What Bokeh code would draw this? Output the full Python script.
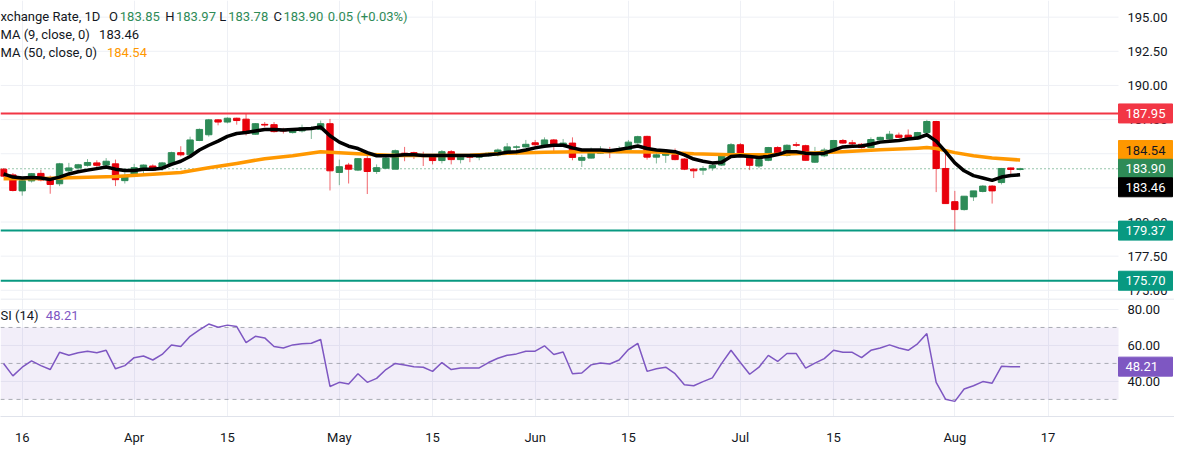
import pandas as pd
from bokeh.plotting import figure
from bokeh.layouts import column
from bokeh.models import FixedTicker, Range1d, Grid, ColumnDataSource
from bokeh.core.properties import value
from bokeh.embed import file_html
from bokeh.resources import INLINE

# ---------------- data ----------------
first_bar = "2025-03-12"
opens = [183.87, 183.45, 182.28, 183.01, 183.56, 183.17, 182.80, 183.75, 183.96, 184.15,
         184.33, 184.17, 184.26, 183.03, 183.36, 183.94, 184.10, 183.91, 184.22, 185.08,
         184.92, 185.97, 186.39, 187.48, 187.32, 187.60, 187.53, 186.43, 187.15, 187.13,
         186.72, 186.55, 186.67, 186.88, 186.78, 187.20, 183.63, 184.17, 183.80, 184.64,
         183.70, 183.94, 183.87, 185.04, 185.08, 184.92, 184.87, 184.50, 185.15, 184.57,
         184.80, 184.75, 184.85, 184.92, 185.20, 185.48, 185.50, 185.80, 185.66, 186.01,
         185.57, 185.78, 184.52, 184.68, 185.04, 185.17, 185.08, 185.31, 185.80, 186.27,
         184.75, 184.89, 184.92, 184.61, 183.87, 183.80, 183.96, 184.17, 184.92, 185.66,
         184.96, 184.10, 184.52, 185.45, 184.87, 185.66, 185.59, 184.38, 184.85, 185.27,
         185.97, 185.80, 185.69, 185.45, 186.01, 186.08, 186.36, 186.36, 186.08, 186.55,
         187.36, 183.92, 181.49, 180.91, 181.84, 182.24, 182.63, 182.89, 183.96, 183.85]
highs = [183.95, 183.59, 183.17, 183.59, 183.82, 183.40, 184.33, 184.33, 184.26, 184.61,
         184.52, 184.68, 184.57, 183.64, 184.26, 184.22, 184.22, 184.40, 185.15, 185.55,
         186.25, 186.85, 187.55, 187.53, 187.67, 187.64, 187.90, 187.25, 187.32, 187.32,
         186.90, 186.85, 187.13, 187.01, 187.43, 187.55, 184.57, 184.33, 184.68, 185.08,
         184.22, 184.80, 185.31, 185.50, 185.15, 185.15, 184.92, 185.27, 185.27, 184.92,
         184.92, 184.92, 185.11, 185.38, 185.78, 185.62, 186.01, 186.01, 186.20, 186.08,
         186.08, 186.20, 184.92, 185.45, 185.55, 185.50, 185.55, 186.01, 186.32, 186.32,
         185.15, 185.08, 185.38, 184.68, 183.92, 184.10, 184.22, 185.04, 185.78, 185.78,
         185.04, 184.61, 185.50, 185.55, 185.69, 185.85, 185.66, 185.50, 185.43, 186.01,
         186.08, 186.01, 185.78, 186.20, 186.25, 186.67, 186.55, 186.78, 186.60, 187.48,
         187.41, 185.15, 182.28, 181.89, 182.28, 182.70, 182.70, 183.96, 183.99, 183.97]
lows = [183.30, 182.24, 181.93, 182.89, 182.98, 182.07, 182.63, 183.29, 183.75, 184.05,
        183.98, 184.05, 182.63, 182.82, 183.29, 183.52, 183.75, 183.75, 184.19, 184.80,
        184.85, 185.92, 186.25, 187.08, 187.22, 187.13, 186.34, 186.39, 186.95, 186.55,
        186.48, 186.48, 186.55, 186.08, 186.71, 182.31, 182.70, 182.82, 183.73, 182.05,
        183.52, 183.87, 183.87, 184.45, 184.61, 184.10, 184.22, 184.29, 184.22, 184.29,
        184.38, 184.52, 184.80, 184.80, 185.15, 184.92, 185.45, 185.38, 185.62, 185.15,
        185.50, 184.52, 184.03, 184.64, 184.99, 184.68, 185.04, 185.27, 185.73, 184.57,
        184.29, 184.33, 184.52, 183.80, 183.22, 183.45, 183.75, 184.10, 184.85, 184.87,
        183.80, 183.94, 184.45, 184.92, 184.80, 185.50, 184.50, 184.33, 184.75, 185.22,
        185.73, 185.43, 185.38, 185.38, 185.97, 186.04, 186.15, 186.04, 186.01, 186.50,
        182.19, 181.35, 179.37, 180.84, 181.54, 182.17, 181.35, 182.75, 183.52, 183.78]
closes = [183.36, 182.31, 183.03, 183.54, 183.08, 182.75, 184.26, 183.96, 184.19, 184.36,
          184.15, 184.45, 183.10, 183.38, 183.98, 184.17, 183.80, 184.33, 185.08, 184.92,
          186.01, 186.78, 187.48, 187.32, 187.60, 187.43, 186.50, 187.20, 187.10, 186.62,
          186.66, 186.83, 186.90, 186.92, 187.20, 183.75, 184.05, 183.87, 184.64, 183.70,
          183.98, 184.68, 185.22, 185.00, 184.80, 184.90, 184.50, 185.15, 184.57, 184.75,
          184.75, 184.80, 185.04, 185.27, 185.50, 185.50, 185.69, 185.66, 186.01, 185.62,
          185.78, 184.73, 184.73, 185.11, 185.22, 185.13, 185.31, 185.85, 186.25, 184.75,
          184.92, 185.04, 184.57, 183.87, 183.75, 183.92, 184.15, 184.96, 185.66, 184.92,
          184.15, 184.57, 185.45, 184.99, 185.62, 185.62, 184.52, 184.92, 185.27, 185.97,
          185.78, 185.73, 185.45, 186.04, 186.20, 186.43, 186.20, 186.08, 186.55, 187.36,
          183.92, 181.35, 180.91, 181.89, 182.28, 182.63, 182.28, 183.92, 183.85, 183.90]
sma9 = [183.52, 183.29, 183.22, 183.26, 183.22, 183.12, 183.29, 183.52, 183.68, 183.80,
        183.91, 184.03, 183.87, 183.77, 183.77, 183.87, 183.87, 183.94, 184.22, 184.45,
        184.80, 185.27, 185.62, 185.92, 186.27, 186.48, 186.55, 186.67, 186.78, 186.78,
        186.74, 186.78, 186.81, 186.85, 186.95, 186.32, 185.85, 185.55, 185.38, 185.08,
        184.85, 184.85, 184.87, 184.92, 184.92, 184.87, 184.87, 184.87, 184.87, 184.87,
        184.87, 184.87, 184.92, 184.99, 185.11, 185.15, 185.27, 185.43, 185.55, 185.62,
        185.62, 185.43, 185.27, 185.27, 185.27, 185.22, 185.31, 185.43, 185.57, 185.38,
        185.27, 185.22, 185.15, 184.92, 184.61, 184.45, 184.33, 184.38, 184.80, 184.85,
        184.80, 184.73, 184.80, 184.94, 185.15, 185.15, 185.04, 184.99, 185.04, 185.27,
        185.50, 185.55, 185.57, 185.69, 185.85, 185.92, 185.97, 186.08, 186.15, 186.39,
        185.92, 185.15, 184.33, 183.75, 183.40, 183.22, 183.05, 183.29, 183.40, 183.46]
sma50_bar = [0, 4, 8, 12, 16, 19, 22, 25, 28, 31, 34, 36, 39, 42, 46, 50, 54, 58, 62, 66,
             70, 74, 78, 82, 86, 90, 94, 98, 99, 100, 102, 104, 106, 109]
sma50 = [183.17, 183.19, 183.26, 183.33, 183.50, 183.63, 183.98, 184.29, 184.64, 184.85,
         185.15, 185.08, 184.96, 184.87, 184.87, 184.89, 185.03, 185.10, 185.15, 185.15,
         185.13, 184.99, 184.92, 184.92, 185.03, 185.15, 185.29, 185.41, 185.45, 185.38,
         185.08, 184.85, 184.68, 184.54]
rsi = [50.0, 43.1, 47.9, 51.4, 48.8, 46.6, 56.2, 54.6, 55.9, 56.8,
       55.9, 57.3, 47.0, 48.8, 53.2, 54.1, 51.9, 55.0, 60.3, 59.4,
       65.1, 68.7, 71.9, 70.1, 71.3, 70.5, 61.6, 65.1, 64.2, 59.4,
       58.6, 60.3, 60.9, 61.2, 63.3, 37.2, 39.5, 38.6, 44.3, 39.5,
       41.7, 46.6, 50.0, 49.1, 48.2, 47.9, 45.6, 50.5, 46.6, 47.5,
       47.5, 47.5, 50.5, 52.9, 54.5, 55.3, 56.8, 56.8, 59.8, 55.0,
       56.4, 44.3, 44.7, 49.2, 50.2, 49.7, 51.9, 57.7, 61.2, 45.6,
       47.0, 47.9, 44.3, 38.1, 37.6, 39.9, 42.0, 50.0, 57.3, 50.5,
       44.0, 47.9, 54.5, 51.1, 55.5, 55.5, 47.4, 50.2, 52.7, 57.3,
       56.2, 56.2, 53.2, 57.3, 58.6, 60.3, 58.6, 57.3, 60.9, 66.6,
       39.5, 30.1, 28.9, 35.8, 37.6, 39.9, 39.0, 48.4, 48.2, 48.21]
resistance = 187.95
supports = [179.37, 175.70]
price_ticks = [175.0, 177.5, 180.0, 182.5, 185.0, 187.5, 190.0, 192.5, 195.0]
rsi_ticks = [40.0, 60.0, 80.0]
rsi_levels = [70, 50, 30]
tick_dates = ["2025-03-16", "2025-04-01", "2025-04-15", "2025-05-01", "2025-05-15", "2025-06-01",
              "2025-06-15", "2025-07-01", "2025-07-15", "2025-08-01", "2025-08-17"]
tick_labels = ["16", "Apr", "15", "May", "15", "Jun", "15", "Jul", "15", "Aug", "17"]

# ---------------- styling / layout ----------------
FONT = "Roboto"
DARK = "#131722"
GREEN = "#2e8b57"
RED = "#e8000b"
ORANGE = "#ff9800"
PURPLE = "#7e57c2"
TEAL = "#089981"
RESRED = "#f23645"
GRID = "#eef0f5"

W = 1174            # full figure width
CW = 1118           # chart area width (left of the price scale)
H1, H2 = 298, 118
X0, XC = -0.33, 119.55   # bar-index range across the chart area
P0, P1 = 174.4, 196.22
R0, R1 = 20.5, 86.1
REF_W, REF_H1, REF_H2 = 1134.0, 310.0, 123.0

ppx = CW / (XC - X0)
XE = X0 + W / ppx
ppy1 = H1 / (P1 - P0)
ppy2 = H2 / (R1 - R0)

bar_dates = pd.bdate_range(first_bar, periods=len(closes) + 12, freq="C",
                           weekmask="Sun Mon Tue Wed Thu")
idx = list(range(len(closes)))
tick_idx = [int(i) for i in bar_dates.searchsorted(pd.to_datetime(tick_dates))]


def fx(ref_px):
    return X0 + ref_px * (CW / REF_W) / ppx


def xpx(px):
    return X0 + px / ppx


def fy1(ref_px):
    return P1 - ref_px * (H1 / REF_H1) / ppy1


def fy2(ref_px):
    return R1 - ref_px * (H2 / REF_H2) / ppy2


common = dict(frame_width=W, toolbar_location=None, output_backend="svg",
              min_border_left=0, min_border_top=0, min_border_right=0,
              background_fill_color="white", border_fill_color="white",
              y_axis_location=None)
TXT = dict(text_font=value(FONT), text_font_size="13px", text_baseline="middle",
           text_align="left")


def hide_default_grids(fig):
    for g in fig.grid:
        g.visible = False


def scale_ticks(fig, ticks):
    fig.text(x=[xpx(CW + 9)] * len(ticks), y=ticks, text=[f"{t:.2f}" for t in ticks],
             text_color=DARK, **TXT)


def scale_label(fig, y, txt, bg, fg, ppy):
    fig.rect(x=[xpx(CW + 27)], y=[y], width=54 / ppx, height=19 / ppy,
             fill_color=bg, line_color=bg)
    fig.text(x=[xpx(CW + 7)], y=[y], text=[txt], text_color=fg, **TXT)


def hlines(fig, ys, **kw):
    fig.segment(x0=[X0] * len(ys), x1=[XC] * len(ys), y0=ys, y1=ys, **kw)


# ---------------- price pane ----------------
p1 = figure(frame_height=H1, x_range=Range1d(X0, XE), y_range=Range1d(P0, P1),
            x_axis_location=None, min_border_bottom=0, **common)
p1.outline_line_color = None
hide_default_grids(p1)
p1.add_layout(Grid(dimension=0, ticker=FixedTicker(ticks=tick_idx), grid_line_color=GRID))
hlines(p1, price_ticks, line_color=GRID, line_width=1)

colors = [GREEN if c >= o else RED for o, c in zip(opens, closes)]
src = ColumnDataSource(dict(x=idx, h=highs, l=lows,
                            top=[max(o, c) for o, c in zip(opens, closes)],
                            bottom=[min(o, c) for o, c in zip(opens, closes)],
                            color=colors))

hlines(p1, [resistance], line_color=RESRED, line_width=2)
hlines(p1, supports, line_color=TEAL, line_width=2)
hlines(p1, [closes[-1]], line_color=GREEN, line_dash="1 3", line_width=1)

p1.segment(x0="x", y0="h", x1="x", y1="l", line_color="color", line_alpha=0.6,
           line_width=1, source=src)
p1.vbar(x="x", width=0.68, top="top", bottom="bottom", fill_color="color",
        line_color="color", line_width=1, source=src)
p1.line(sma50_bar, sma50, line_color=ORANGE, line_width=3.5, line_join="round")
p1.line(idx, sma9, line_color="black", line_width=3.5, line_join="round")

chg = closes[-1] - closes[-2]
row1 = [("xchange Rate, 1D", 0, DARK), ("O", 110, DARK), (f"{opens[-1]:.2f}", 121, GREEN),
        ("H", 167, DARK), (f"{highs[-1]:.2f}", 178, GREEN), ("L", 222, DARK),
        (f"{lows[-1]:.2f}", 231, GREEN), ("C", 277, DARK), (f"{closes[-1]:.2f}", 287, GREEN),
        (f"{chg:.2f} ({chg / closes[-2] * 100:+.2f}%)", 332, GREEN)]
row2 = [("MA (9, close, 0)", 0, DARK), (f"{sma9[-1]:.2f}", 100, DARK)]
row3 = [("MA (50, close, 0)", 0, DARK), (f"{sma50[-1]:.2f}", 108, ORANGE)]
for row, ry in ((row1, 16.5), (row2, 35.5), (row3, 54.5)):
    p1.text(x=[fx(r[1]) for r in row], y=[fy1(ry)] * len(row), text=[r[0] for r in row],
            text_color=[r[2] for r in row], **TXT)

scale_ticks(p1, price_ticks)
scale_label(p1, resistance, f"{resistance:.2f}", RESRED, "white", ppy1)
scale_label(p1, sma50[-1] + 10 / ppy1, f"{sma50[-1]:.2f}", ORANGE, DARK, ppy1)
scale_label(p1, closes[-1], f"{closes[-1]:.2f}", GREEN, "white", ppy1)
scale_label(p1, sma9[-1] - 12.5 / ppy1, f"{sma9[-1]:.2f}", "black", "white", ppy1)
for s in supports:
    scale_label(p1, s, f"{s:.2f}", TEAL, "white", ppy1)

# ---------------- RSI pane ----------------
p2 = figure(frame_height=H2, x_range=p1.x_range, y_range=Range1d(R0, R1),
            x_axis_location="below", min_border_bottom=27, **common)
p2.outline_line_color = None
hide_default_grids(p2)
p2.add_layout(Grid(dimension=0, ticker=FixedTicker(ticks=tick_idx), grid_line_color=GRID))
hlines(p2, rsi_ticks, line_color=GRID, line_width=1)
p2.quad(left=[X0], right=[XC], bottom=[min(rsi_levels)], top=[max(rsi_levels)],
        fill_color=PURPLE, fill_alpha=0.1, line_color=None)
hlines(p2, rsi_levels, line_color="#9598a1", line_dash="4 4", line_width=1, line_alpha=0.8)
p2.segment(x0=[X0], x1=[XE], y0=[R1 - 0.5 / ppy2], y1=[R1 - 0.5 / ppy2],
           line_color="#e0e3eb", line_width=1)
p2.line(idx, rsi, line_color=PURPLE, line_width=1.5)

xa = p2.xaxis[0]
xa.ticker = FixedTicker(ticks=tick_idx)
xa.major_label_overrides = {int(i): lab for i, lab in zip(tick_idx, tick_labels)}
xa.axis_line_color = "#e0e3eb"
xa.major_label_standoff = 7
xa.major_tick_line_color = None
xa.minor_tick_line_color = None
xa.major_label_text_font = FONT
xa.major_label_text_font_size = "13px"
xa.major_label_text_color = DARK

rrow = [("SI (14)", 0, DARK), (f"{rsi[-1]:.2f}", 46, PURPLE)]
p2.text(x=[fx(r[1]) for r in rrow], y=[fy2(17.5)] * 2, text=[r[0] for r in rrow],
        text_color=[r[2] for r in rrow], **TXT)

scale_ticks(p2, rsi_ticks)
scale_label(p2, rsi[-1], f"{rsi[-1]:.2f}", PURPLE, "white", ppy2)

layout = column(p1, p2, spacing=0)
open("out.html", "w").write(file_html(layout, INLINE))
